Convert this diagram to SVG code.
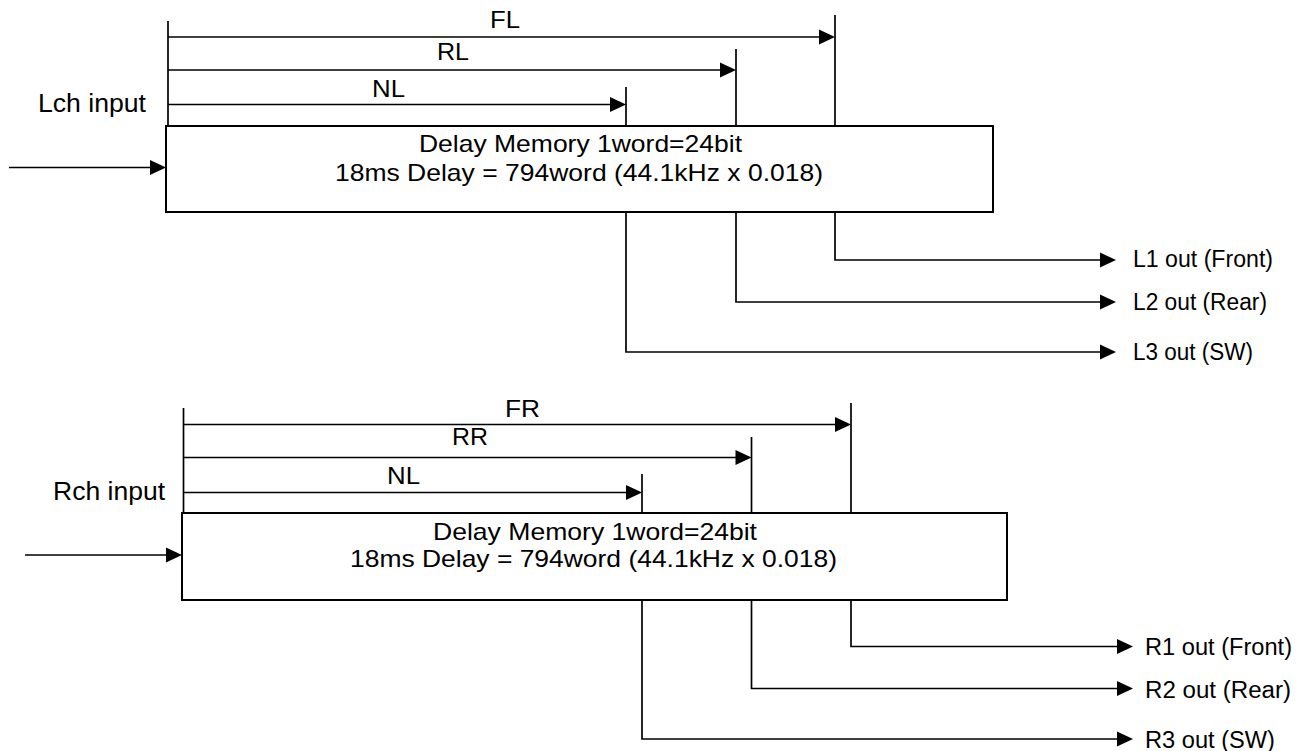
<svg xmlns="http://www.w3.org/2000/svg" xmlns:xlink="http://www.w3.org/1999/xlink" width="1309" height="751" viewBox="0 0 1309 751">
<style>
.ln{fill:none;stroke:#000;stroke-width:1.7}
.box{fill:#fff;stroke:#000;stroke-width:2}
.head{fill:#000;stroke:none}
text{font-family:"Liberation Sans",Arial,sans-serif;fill:#000}
.lbl{font-size:24px}
.in{font-size:26px}
.mem{font-size:24px;text-anchor:start}
.out{font-size:23px}
</style>
<defs>
<path id="ah" class="head" d="M0,0 L-16,-7.5 L-16,7.5 z"/>
</defs>
<rect width="1309" height="751" fill="#fff"/>

<g id="connectors">
<!-- top block -->
<line class="ln" x1="168" y1="21" x2="168" y2="126"/>
<line class="ln" x1="835" y1="15" x2="835" y2="126"/>
<line class="ln" x1="736" y1="49" x2="736" y2="126"/>
<line class="ln" x1="626" y1="87" x2="626" y2="126"/>
<line class="ln" x1="168" y1="37" x2="825" y2="37"/>
<use xlink:href="#ah" href="#ah" x="835" y="37"/>
<line class="ln" x1="168" y1="70" x2="726" y2="70"/>
<use xlink:href="#ah" href="#ah" x="736" y="70"/>
<line class="ln" x1="168" y1="104.5" x2="616" y2="104.5"/>
<use xlink:href="#ah" href="#ah" x="626" y="104.5"/>
<line class="ln" x1="9" y1="167.5" x2="156" y2="167.5"/>
<use xlink:href="#ah" href="#ah" x="166" y="167.5"/>
<polyline class="ln" points="835,212 835,260 1106,260"/>
<use xlink:href="#ah" href="#ah" x="1116" y="260"/>
<polyline class="ln" points="736,212 736,302 1106,302"/>
<use xlink:href="#ah" href="#ah" x="1116" y="302"/>
<polyline class="ln" points="626,210 626,352 1106,352"/>
<use xlink:href="#ah" href="#ah" x="1116" y="352"/>
<!-- bottom block -->
<line class="ln" x1="183.5" y1="408" x2="183.5" y2="513"/>
<line class="ln" x1="851" y1="403" x2="851" y2="513"/>
<line class="ln" x1="751.5" y1="437" x2="751.5" y2="513"/>
<line class="ln" x1="642" y1="474" x2="642" y2="513"/>
<line class="ln" x1="183.5" y1="424.5" x2="841" y2="424.5"/>
<use xlink:href="#ah" href="#ah" x="851" y="424.5"/>
<line class="ln" x1="183.5" y1="457.5" x2="741.5" y2="457.5"/>
<use xlink:href="#ah" href="#ah" x="751.5" y="457.5"/>
<line class="ln" x1="183.5" y1="492.5" x2="632" y2="492.5"/>
<use xlink:href="#ah" href="#ah" x="642" y="492.5"/>
<line class="ln" x1="25" y1="555" x2="172" y2="555"/>
<use xlink:href="#ah" href="#ah" x="182" y="555"/>
<polyline class="ln" points="851,600 851,646.5 1123,646.5"/>
<use xlink:href="#ah" href="#ah" x="1133" y="646.5"/>
<polyline class="ln" points="751.5,600 751.5,688.5 1123,688.5"/>
<use xlink:href="#ah" href="#ah" x="1133" y="688.5"/>
<polyline class="ln" points="642,598 642,739 1123,739"/>
<use xlink:href="#ah" href="#ah" x="1133" y="739"/>
</g>

<g id="mem-L">
<rect class="box" x="166" y="126" width="827" height="86"/>
<text class="mem" x="419" y="152" textLength="323" lengthAdjust="spacingAndGlyphs">Delay Memory 1word=24bit</text>
<text class="mem" x="335" y="181" textLength="488" lengthAdjust="spacingAndGlyphs">18ms Delay = 794word (44.1kHz x 0.018)</text>
</g>

<g id="mem-R">
<rect class="box" x="182" y="513" width="825" height="87"/>
<text class="mem" x="433" y="540" textLength="324" lengthAdjust="spacingAndGlyphs">Delay Memory 1word=24bit</text>
<text class="mem" x="350" y="567" textLength="487" lengthAdjust="spacingAndGlyphs">18ms Delay = 794word (44.1kHz x 0.018)</text>
</g>

<g id="labels-L">
<text class="lbl" x="490" y="28" textLength="30" lengthAdjust="spacingAndGlyphs">FL</text>
<text class="lbl" x="437" y="60" textLength="32" lengthAdjust="spacingAndGlyphs">RL</text>
<text class="lbl" x="372" y="97" textLength="33" lengthAdjust="spacingAndGlyphs">NL</text>
<text class="in" x="38" y="112" textLength="108" lengthAdjust="spacingAndGlyphs">Lch input</text>
</g>

<g id="labels-R">
<text class="lbl" x="505" y="417" textLength="35" lengthAdjust="spacingAndGlyphs">FR</text>
<text class="lbl" x="452" y="445" textLength="36" lengthAdjust="spacingAndGlyphs">RR</text>
<text class="lbl" x="387" y="484" textLength="33" lengthAdjust="spacingAndGlyphs">NL</text>
<text class="in" x="53" y="500" textLength="112" lengthAdjust="spacingAndGlyphs">Rch input</text>
</g>

<g id="out-L">
<text class="out" x="1133" y="267" textLength="140" lengthAdjust="spacingAndGlyphs">L1 out (Front)</text>
<text class="out" x="1133" y="310" textLength="134" lengthAdjust="spacingAndGlyphs">L2 out (Rear)</text>
<text class="out" x="1133" y="360" textLength="120" lengthAdjust="spacingAndGlyphs">L3 out (SW)</text>
</g>

<g id="out-R">
<text class="out" x="1145" y="655" textLength="147" lengthAdjust="spacingAndGlyphs">R1 out (Front)</text>
<text class="out" x="1145" y="698" textLength="146" lengthAdjust="spacingAndGlyphs">R2 out (Rear)</text>
<text class="out" x="1145" y="748" textLength="130" lengthAdjust="spacingAndGlyphs">R3 out (SW)</text>
</g>
</svg>
